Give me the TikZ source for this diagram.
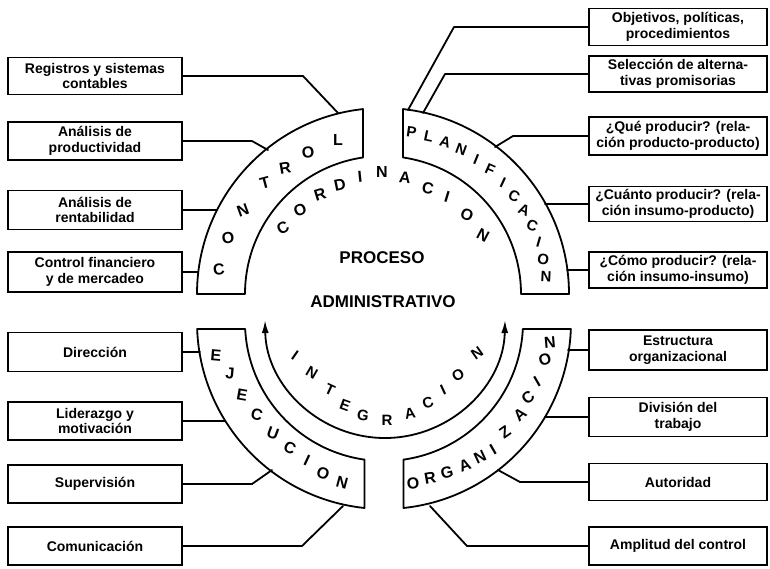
\documentclass[tikz,border=0pt]{standalone}
\usepackage{fontspec}
\setmainfont{Liberation Sans}
\usetikzlibrary{arrows.meta}
\newcommand\bxf{\bfseries\fontsize{14}{15.5}\selectfont}
\newcommand\ltf{\bfseries\fontsize{16}{16}\selectfont}
\newcommand\itf{\bfseries\fontsize{15}{15}\selectfont}
\newcommand\ctf{\bfseries\fontsize{17}{17}\selectfont}
\begin{document}
\begin{tikzpicture}[x=1pt,y=-1pt,
  ln/.style={line width=1.8pt,line join=round,line cap=round},
  boxL/.style={draw,line width=1.8pt,minimum width=174pt,inner sep=2pt,align=center,font=\bxf},
  boxR/.style={draw,line width=1.8pt,minimum width=178pt,inner sep=2pt,align=center,font=\bxf},
  ch/.style={font=\ltf,inner sep=0pt},
  chi/.style={font=\itf,inner sep=0pt}]
\useasboundingbox (0,0) rectangle (770,568);

% ---------- bands ----------
\begin{scope}[shift={(383,294)}]
  \draw[ln] (-96.17:186) arc[start angle=-96.17,end angle=-180,radius=186]
     -- (-180:138) arc[start angle=-180,end angle=-98.33,radius=138] -- cycle;
  \draw[ln] (0:186) arc[start angle=0,end angle=-83.83,radius=186]
     -- (-81.67:138) arc[start angle=-81.67,end angle=0,radius=138] -- cycle;
\end{scope}
\begin{scope}[shift={(384,322)}]
  \draw[ln] (-182.15:187) arc[start angle=-182.15,end angle=-264.01,radius=187]
     -- (-261.93:139) arc[start angle=-261.93,end angle=-182.89,radius=139] -- cycle;
  \draw[ln] (2.15:187) arc[start angle=2.15,end angle=84.01,radius=187]
     -- (81.93:139) arc[start angle=81.93,end angle=2.89,radius=139] -- cycle;
\end{scope}
\begin{scope}[shift={(385,318)}]
  \draw[ln,{Latex[length=13pt,width=7pt]}-{Latex[length=13pt,width=7pt]}]
     (-181:120) arc[start angle=-181,end angle=-359,radius=120];
\end{scope}

% ---------- band letters ----------
\foreach \px/\py/\rr/\chr [count=\i] in {219/270/5/C, 228/238/10/O, 243/210/20/N, 265/183/15/T, 285/168/10/R, 308/152/5/O, 338/140/0/L}
  \node[ch,rotate=\rr] (ctl\i) at (\px,\py) {\chr};
\foreach \px/\py/\rr/\chr [count=\i] in {411.5/132.5/-8/P, 428.7/136.5/-12/L, 445.3/142.3/-16/A, 461.3/149.9/-20/N, 476.3/159.1/-22/I, 490.2/169.9/-24/F, 503/182.2/-25/I, 514.3/195.7/-25/C, 524.1/210.3/-24/A, 532.2/226/-21/C, 538.7/242.4/-16/I, 543.3/259.4/-10/O, 546.1/276.9/-3/N}
  \node[chi,rotate=\rr] (pla\i) at (\px,\py) {\chr};
\foreach \px/\py/\rr/\chr [count=\i] in {283/228/28/C, 300/210/22/O, 320/195/17/R, 340/185/12/D, 360/177/6/I, 382/172/0/N, 405/178/-6/A, 428/188/-12/C, 447/197/-17/I, 467/215/-23/O, 483/235/-28/N}
  \node[ch,rotate=\rr] (cor\i) at (\px,\py) {\chr};
\foreach \px/\py/\rr/\chr [count=\i] in {216/355/-5/E, 230/373/-5/J, 242/395/-10/E, 257/415/-15/C, 273/433/-20/U, 290/448/-25/C, 307/460/-25/I, 323/473/-20/O, 342/483/-15/N}
  \node[ch,rotate=\rr] (eje\i) at (\px,\py) {\chr};
\foreach \px/\py/\rr/\chr [count=\i] in {413/483/5/O, 430/478/10/R, 447/473/15/G, 465/465/20/A, 480/457/25/N, 493/450/30/I, 505/432/35/Z, 520/415/40/A, 528/398/40/C, 537/382/30/I, 545/360/15/O, 550/343/5/N}
  \node[ch,rotate=\rr] (org\i) at (\px,\py) {\chr};
\foreach \px/\py/\rr/\chr [count=\i] in {295/355/-35/I, 312/373/-30/N, 330/390/-25/T, 345/405/-20/E, 363/415/-10/G, 387/420/0/R, 410/413/10/A, 428/403/20/C, 443/390/25/I, 458/375/30/O, 477/353/35/N}
  \node[chi,rotate=\rr] (int\i) at (\px,\py) {\chr};

% ---------- centre ----------
\node[font=\ctf] (proc) at (382,258) {PROCESO};
\node[font=\ctf] (adm) at (383,302) {ADMINISTRATIVO};

% ---------- left boxes ----------
\node[boxL,minimum height=37pt] (B1) at (95,76)  {Registros y sistemas\\contables};
\node[boxL,minimum height=38pt] (B2) at (95,141) {Análisis de\\productividad};
\node[boxL,minimum height=39pt] (B3) at (95,210) {Análisis de\\rentabilidad};
\node[boxL,minimum height=40pt] (B4) at (95,272) {Control financiero\\y de mercadeo};
\node[boxL,minimum height=39pt] (B5) at (95,352) {Dirección};
\node[boxL,minimum height=38pt] (B6) at (95,421) {Liderazgo y\\motivación};
\node[boxL,minimum height=38pt] (B7) at (95,484) {Supervisión};
\node[boxL,minimum height=38pt] (B8) at (95,546) {Comunicación};

% ---------- right boxes ----------
\node[boxR,minimum height=37pt] (R1) at (678,27)  {Objetivos, políticas,\\procedimientos};
\node[boxR,minimum height=36pt] (R2) at (678,74)  {Selección de alterna-\\tivas promisorias};
\node[boxR,minimum height=38pt] (R3) at (678,136) {¿Qué producir? (rela-\\ción producto-producto)};
\node[boxR,minimum height=35pt] (R4) at (678,204) {¿Cuánto producir? (rela-\\ción insumo-producto)};
\node[boxR,minimum height=36pt] (R5) at (678,270) {¿Cómo producir? (rela-\\ción insumo-insumo)};
\node[boxR,minimum height=40pt] (R6) at (678,350) {Estructura\\organizacional};
\node[boxR,minimum height=39pt] (R7) at (678,417) {División del\\trabajo};
\node[boxR,minimum height=37pt] (R8) at (678,482) {Autoridad};
\node[boxR,minimum height=38pt] (R9) at (678,546) {Amplitud del control};

% ---------- connector points ----------
\coordinate (kB1) at (303,76);  \coordinate (eB1) at (338,113);
\coordinate (kB2) at (252,141); \coordinate (eB2) at (268,150);
\coordinate (eB3) at (217,210);
\coordinate (eB4) at (198,272);
\coordinate (eB5) at (200,352);
\coordinate (eB6) at (225,421);
\coordinate (kB7) at (252,484); \coordinate (eB7) at (272,470);
\coordinate (kB8) at (302,546); \coordinate (eB8) at (343,506);
\coordinate (kR1) at (454,27);  \coordinate (eR1) at (408,110);
\coordinate (kR2) at (445,74);  \coordinate (eR2) at (423,113);
\coordinate (kR3) at (513,136); \coordinate (eR3) at (495,147);
\coordinate (eR4) at (545,204);
\coordinate (eR5) at (567,270);
\coordinate (eR6) at (568,350);
\coordinate (eR7) at (545,417);
\coordinate (kR8) at (520,482); \coordinate (eR8) at (498,470);
\coordinate (kR9) at (467,546); \coordinate (eR9) at (430,506);

% ---------- connectors ----------
\draw[ln] (B1.east) -- (kB1) -- (eB1);
\draw[ln] (B2.east) -- (kB2) -- (eB2);
\draw[ln] (B3.east) -- (eB3);
\draw[ln] (B4.east) -- (eB4);
\draw[ln] (B5.east) -- (eB5);
\draw[ln] (B6.east) -- (eB6);
\draw[ln] (B7.east) -- (kB7) -- (eB7);
\draw[ln] (B8.east) -- (kB8) -- (eB8);
\draw[ln] (R1.west) -- (kR1) -- (eR1);
\draw[ln] (R2.west) -- (kR2) -- (eR2);
\draw[ln] (R3.west) -- (kR3) -- (eR3);
\draw[ln] (R4.west) -- (eR4);
\draw[ln] (R5.west) -- (eR5);
\draw[ln] (R6.west) -- (eR6);
\draw[ln] (R7.west) -- (eR7);
\draw[ln] (R8.west) -- (kR8) -- (eR8);
\draw[ln] (R9.west) -- (kR9) -- (eR9);
\end{tikzpicture}
\end{document}
